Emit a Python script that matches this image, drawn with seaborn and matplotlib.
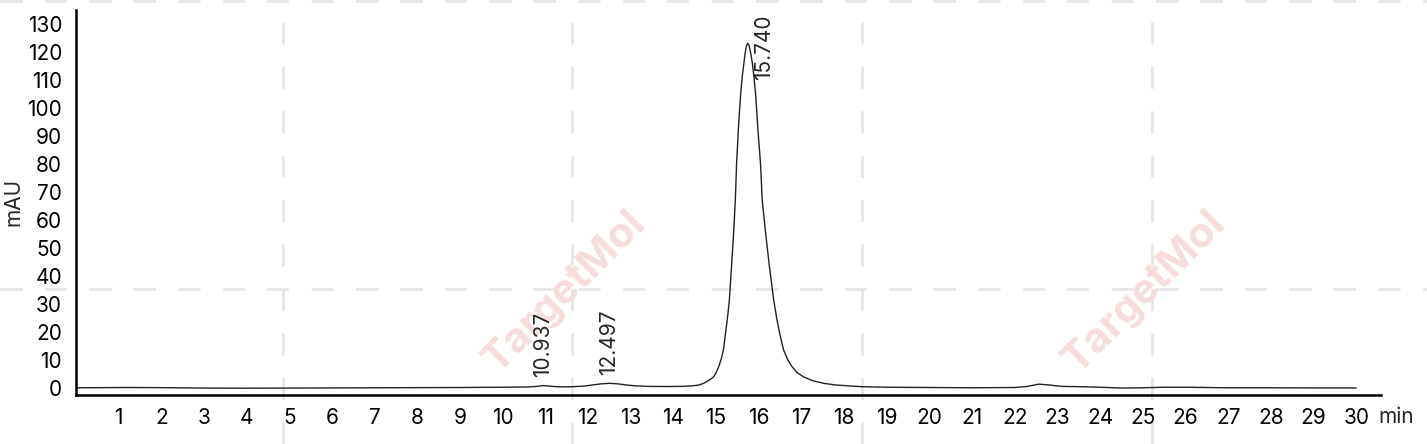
import matplotlib
matplotlib.use("Agg")
import matplotlib.pyplot as plt
import seaborn as sns
import pandas as pd
from matplotlib.lines import Line2D

# chromatogram trace (min, mAU)
time_min = [0.0, 0.6, 1.2, 2.0, 3.0, 4.0, 5.0, 6.0, 7.0, 8.0, 9.0, 10.0,
            10.6, 10.8, 10.94, 11.1, 11.3, 11.6, 11.9, 12.1, 12.3, 12.5,
            12.7, 12.9, 13.1, 13.4, 13.8, 14.2, 14.45, 14.6, 14.71, 14.82,
            14.88, 14.94, 15.0, 15.06, 15.12, 15.17, 15.22, 15.27, 15.31,
            15.36, 15.41, 15.45, 15.48, 15.52, 15.57, 15.61, 15.65, 15.68,
            15.71, 15.74, 15.77, 15.81, 15.85, 15.89, 15.93, 15.98,
            16.04, 16.08, 16.16, 16.25, 16.35, 16.42, 16.49, 16.58, 16.68,
            16.78, 16.9, 17.05, 17.25, 17.52, 17.8, 18.0, 18.4, 19.0, 20.0,
            21.0, 22.0, 22.3, 22.56, 22.8, 23.1, 23.5, 24.0, 24.5, 25.0,
            25.5, 26.0, 27.0, 28.0, 29.0, 30.0]
signal_mau = [0.0, 0.05, 0.1, 0.05, -0.1, -0.15, -0.1, -0.05, 0.0, 0.05, 0.1, 0.2,
              0.3, 0.5, 0.8, 0.6, 0.35, 0.35, 0.6, 1.0, 1.4, 1.6,
              1.4, 1.0, 0.7, 0.5, 0.45, 0.5, 0.7, 1.0, 1.6, 2.6,
              3.2, 3.9, 5.4, 7.5, 10.3, 13.5, 19.4, 25.5, 31.3,
              43.2, 55.2, 67.1, 80.2, 92.1, 104.0, 111.0, 115.9, 119.6,
              122.2, 123.1, 122.4, 119.6, 115.9, 110.6, 104.0, 92.1,
              80.2, 67.1, 55.2, 43.2, 31.3, 24.8, 19.4, 13.5, 10.0,
              7.5, 5.4, 3.9, 2.6, 1.6, 1.0, 0.8, 0.4, 0.2, 0.1,
              0.0, 0.1, 0.5, 1.3, 1.0, 0.5, 0.4, 0.2, -0.1, 0.0,
              0.2, 0.2, 0.0, 0.0, -0.05, -0.05]

peak_rt = [10.937, 12.497, 15.740]
peak_height = [0.8, 1.6, 123.1]
peak_labels = ["10.937", "12.497", "15.740"]

x_ticks = list(range(1, 31))
y_ticks = list(range(0, 131, 10))

sns.set_style("white")
plt.rcParams["font.family"] = ["Inter", "DejaVu Sans"]

W, H = 1427, 444
fig = plt.figure(figsize=(W / 100, H / 100), dpi=100)
ax = fig.add_axes([76 / W, 1 - 394.5 / H, (1381 - 76) / W, (394.5 - 10) / H])
ax.patch.set_alpha(0)

# watermark: dashed grid and rotated text behind the plot
for xp in [283, 572, 862, 1152]:
    fig.add_artist(Line2D([xp / W, xp / W], [0, 1], transform=fig.transFigure,
                          color="#e6e6e6", lw=2, ls=(0, (8, 8)), zorder=-2))
for yp in [1, 289]:
    fig.add_artist(Line2D([0, 1], [1 - yp / H, 1 - yp / H], transform=fig.transFigure,
                          color="#e6e6e6", lw=2, ls=(0, (8, 8)), zorder=-2))
for cx, cy in [(565, 292), (1145, 292)]:
    fig.text(cx / W, 1 - cy / H, "TargetMol", rotation=45, rotation_mode="anchor",
             ha="center", va="center", fontsize=30, fontweight="bold",
             color="#f7dcdc", zorder=-1)

df = pd.DataFrame({"time": time_min, "signal": signal_mau})
sns.lineplot(data=df, x="time", y="signal", color="#222222", linewidth=1.0,
             estimator=None, sort=False, ax=ax)

# peak retention-time labels
for rt, h, lab in zip(peak_rt, peak_height, peak_labels):
    if h + 3 > 110:
        ax.text(rt + 0.38, 110, lab, rotation=90, ha="center", va="bottom", fontsize=15)
    else:
        ax.text(rt, h + 3, lab, rotation=90, ha="center", va="bottom", fontsize=15)

ax.set_xlim(0, 30.58)
ax.set_ylim(-2.4, 135)
ax.set_xticks(x_ticks)
ax.set_yticks(y_ticks)
ax.set_xticklabels([str(t) for t in x_ticks])
ax.set_yticklabels([str(t) for t in y_ticks])
ax.tick_params(axis="both", length=7, width=1.5, labelsize=15, colors="black", pad=3)
ax.set_xlabel("")
ax.set_ylabel("mAU", fontsize=15, labelpad=3)
ax.text(0.9977, -0.0585, "min", transform=ax.transAxes, ha="left", va="center", fontsize=15)

sns.despine(ax=ax)
for side in ["left", "bottom"]:
    ax.spines[side].set_linewidth(1.8)
    ax.spines[side].set_color("black")

fig.savefig("out.png", dpi=100)
